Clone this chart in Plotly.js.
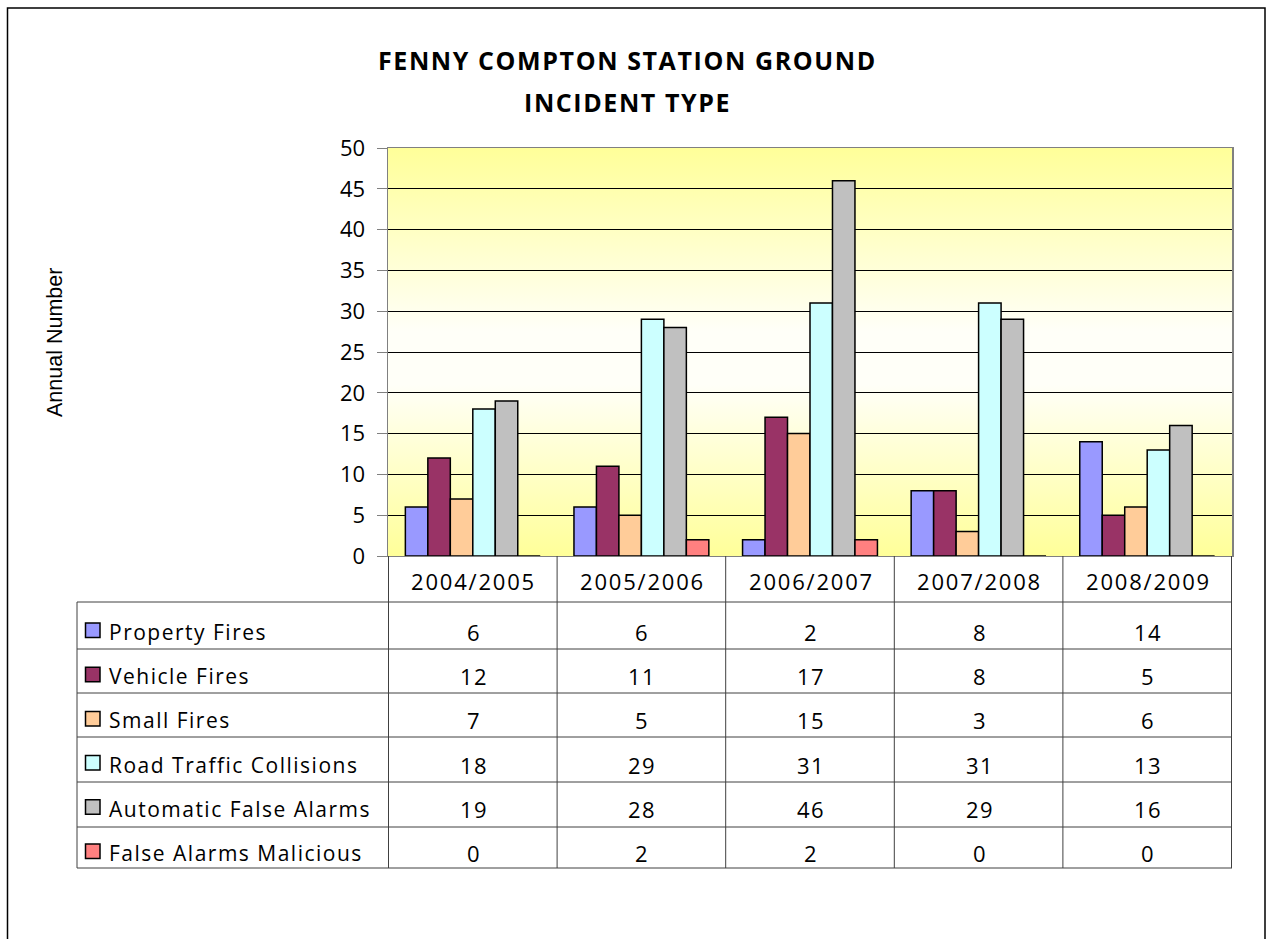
<!DOCTYPE html>
<html>
<head>
<meta charset="utf-8">
<script src="https://cdn.plot.ly/plotly-3.0.1.min.js"></script>
<style>html,body{margin:0;padding:0;background:#fff;}#chart{width:1267px;height:939px;}</style>
</head>
<body>
<div id="chart"></div>
<script>
// ---- data ----
var categories = ['2004/2005', '2005/2006', '2006/2007', '2007/2008', '2008/2009'];
var seriesNames = ['Property Fires', 'Vehicle Fires', 'Small Fires', 'Road Traffic Collisions', 'Automatic False Alarms', 'False Alarms Malicious'];
var propertyFires = [6, 6, 2, 8, 14];
var vehicleFires = [12, 11, 17, 8, 5];
var smallFires = [7, 5, 15, 3, 6];
var roadTrafficCollisions = [18, 29, 31, 31, 13];
var automaticFalseAlarms = [19, 28, 46, 29, 16];
var falseAlarmsMalicious = [0, 2, 2, 0, 0];
var titleLines = ['FENNY COMPTON STATION GROUND', 'INCIDENT TYPE'];
var yTitle = 'Annual Number';

var seriesValues = [propertyFires, vehicleFires, smallFires, roadTrafficCollisions, automaticFalseAlarms, falseAlarmsMalicious];
var colors = ['#9999FF', '#993366', '#FFCC99', '#CCFFFF', '#C0C0C0', '#FF8080'];

// ---- layout geometry (pixels) ----
var W = 1267, H = 939;
var L = 388, R = 1232, T = 148, B = 556;
function px(x) { return (x - L) / (R - L); }
function py(y) { return (B - y) / (B - T); }
var FONT = '"Open Sans", Lato, sans-serif';
function sp(t, s) { return '<span style="letter-spacing:' + s + 'px">' + t + '</span>'; }

var traces = seriesValues.map(function (vals, i) {
  return {
    type: 'bar', name: seriesNames[i], x: categories, y: vals,
    marker: { color: colors[i], line: { color: '#000', width: 1.5 } },
    hoverinfo: 'x+y+name'
  };
});

var shapes = [];
var annotations = [];
var lineCol = '#404040';
// outer border
shapes.push({ type: 'rect', xref: 'paper', yref: 'paper', x0: px(7.5), x1: px(1265), y0: py(8), y1: py(950), line: { color: '#000', width: 1.5 }, layer: 'above' });
// table horizontal lines
var hLines = [602, 649, 693, 737, 782, 827, 868];
hLines.forEach(function (y) {
  shapes.push({ type: 'line', xref: 'paper', yref: 'paper', x0: px(77), x1: px(R), y0: py(y), y1: py(y), line: { color: lineCol, width: 1 } });
});
// table vertical lines
shapes.push({ type: 'line', xref: 'paper', yref: 'paper', x0: px(77), x1: px(77), y0: py(602), y1: py(868), line: { color: lineCol, width: 1 } });
for (var k = 0; k <= categories.length; k++) {
  shapes.push({ type: 'line', xref: 'x', yref: 'paper', x0: k - 0.5, x1: k - 0.5, y0: py(B), y1: py(868), line: { color: lineCol, width: 1 } });
}
// header
categories.forEach(function (c, i) {
  annotations.push({ xref: 'x', yref: 'paper', x: i, xshift: 1, y: py(581), text: sp(c, 1.8), showarrow: false, xanchor: 'center', yanchor: 'middle', font: { family: FONT, size: 22, color: '#000' } });
});
// rows
seriesNames.forEach(function (n, r) {
  var cy = 632 + r * 44.2;
  shapes.push({ type: 'rect', xref: 'paper', yref: 'paper', x0: px(85.5), x1: px(100), y0: py(cy - 9), y1: py(cy + 5.5), fillcolor: colors[r], line: { color: '#000', width: 1.5 } });
  annotations.push({ xref: 'paper', yref: 'paper', x: px(107), y: py(cy), text: sp(n, 1.5), showarrow: false, xanchor: 'left', yanchor: 'middle', font: { family: FONT, size: 21, color: '#000' } });
  seriesValues[r].forEach(function (v, i) {
    annotations.push({ xref: 'x', yref: 'paper', x: i, xshift: 1, y: py(cy), text: sp(String(v), 1.5), showarrow: false, xanchor: 'center', yanchor: 'middle', font: { family: FONT, size: 22, color: '#000' } });
  });
});
// titles
titleLines.forEach(function (t, i) {
  annotations.push({ xref: 'paper', yref: 'paper', x: px(627), y: py(60 + i * 42), text: '<b>' + sp(t, 1.6) + '</b>', showarrow: false, xanchor: 'center', yanchor: 'middle', font: { family: FONT, size: 25, color: '#000' } });
});
annotations.push({ xref: 'paper', yref: 'paper', x: px(55), y: py(343), text: yTitle, textangle: -90, showarrow: false, xanchor: 'center', yanchor: 'middle', font: { family: 'Liberation Sans', size: 21.5, color: '#000' } });

var svg = '<svg xmlns="http://www.w3.org/2000/svg" width="100" height="100" preserveAspectRatio="none">' +
  '<defs><linearGradient id="g" x1="0" y1="0" x2="0" y2="1">' +
  '<stop offset="0" stop-color="#FFFF99"/><stop offset="0.45" stop-color="#FFFFF8"/>' +
  '<stop offset="0.58" stop-color="#FFFFF8"/><stop offset="1" stop-color="#FFFF99"/>' +
  '</linearGradient></defs><rect width="100" height="100" fill="url(#g)"/></svg>';

var layout = {
  width: W, height: H,
  margin: { l: L, r: W - R, t: T, b: H - B, pad: 0 },
  paper_bgcolor: '#fff', plot_bgcolor: 'rgba(0,0,0,0)',
  showlegend: false,
  barmode: 'group', bargap: 0.2, bargroupgap: 0,
  xaxis: { type: 'category', showticklabels: false, ticks: '', showgrid: false, showline: true, linecolor: '#808080', linewidth: 1, mirror: true, zeroline: false, fixedrange: true },
  yaxis: { range: [0, 50], dtick: 5, tick0: 0, ticks: 'outside', ticklen: 10, tickcolor: '#808080', ticklabelstandoff: 7,
    tickfont: { family: FONT, size: 22, color: '#000' }, showgrid: true, gridcolor: '#000', gridwidth: 1,
    showline: true, linecolor: '#808080', linewidth: 1.5, mirror: true, zeroline: false, fixedrange: true },
  images: [{ source: 'data:image/svg+xml;charset=utf-8,' + encodeURIComponent(svg), xref: 'paper', yref: 'paper', x: 0, y: 1, sizex: 1, sizey: 1, sizing: 'stretch', xanchor: 'left', yanchor: 'top', layer: 'below' }],
  shapes: shapes, annotations: annotations
};

Plotly.newPlot('chart', traces, layout, { displayModeBar: false, staticPlot: true });
</script>
</body>
</html>
